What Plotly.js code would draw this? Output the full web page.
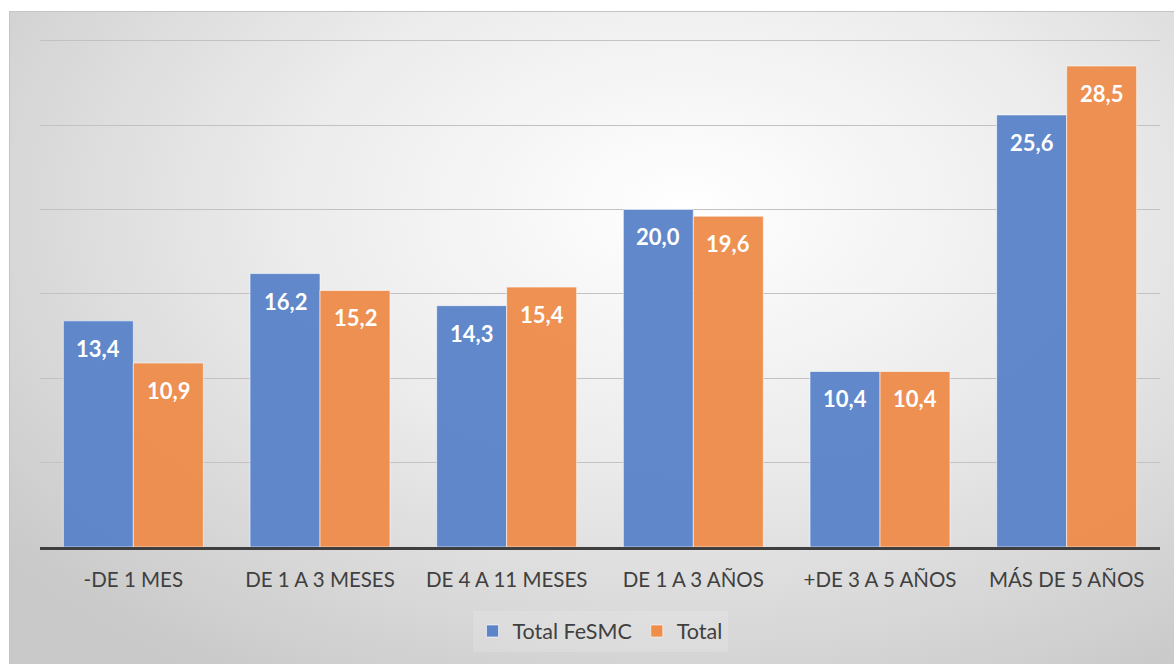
<!DOCTYPE html>
<html>
<head>
<meta charset="utf-8">
<script src="https://cdn.plot.ly/plotly-3.0.1.min.js"></script>
<style>
  html, body { margin: 0; padding: 0; background: #ffffff; }
  #bg {
    position: absolute; left: 9px; top: 11px; width: 1165px; height: 653px;
    background: radial-gradient(ellipse 75% 85% at 58% 30%, #ffffff 0%, #ececec 45%, #c9c9c9 100%);
    border-top: 1px solid #c4c4c4; border-left: 1px solid #c4c4c4;
    box-sizing: border-box;
  }
  #chart { position: absolute; left: 0; top: 0; width: 1174px; height: 664px; }
</style>
</head>
<body>
<div id="bg"></div>
<div id="chart"></div>
<script>
const categories = ["-DE 1 MES", "DE 1 A 3 MESES", "DE 4 A 11 MESES", "DE 1 A 3 AÑOS", "+DE 3 A 5 AÑOS", "MÁS DE 5 AÑOS"];
const seriesNames = ["Total FeSMC", "Total"];
const totalFeSMC = [13.4, 16.2, 14.3, 20.0, 10.4, 25.6];
const total = [10.9, 15.2, 15.4, 19.6, 10.4, 28.5];
const colors = ["#5b84c9", "#ee8d4c"];

function fmt(v) { return v.toFixed(1).replace('.', ','); }

const traces = [totalFeSMC, total].map((vals, i) => ({
  type: 'bar',
  name: seriesNames[i],
  x: categories,
  y: vals,
  marker: { color: colors[i], opacity: 0.96, line: { color: 'rgba(255,255,255,0.6)', width: 1 } },
  hoverinfo: 'none'
}));

const annotations = [];
[totalFeSMC, total].forEach((vals, i) => {
  vals.forEach((v, j) => {
    annotations.push({
      x: categories[j], y: v, xref: 'x', yref: 'y',
      xshift: i === 0 ? -35 : 35, yshift: -12,
      yanchor: 'top', xanchor: 'center', showarrow: false,
      text: '<b>' + fmt(v) + '</b>',
      font: { family: 'Lato, sans-serif', size: 22, color: '#ffffff' }
    });
  });
});

const layout = {
  width: 1174, height: 664,
  margin: { l: 40, r: 14, t: 39, b: 113 },
  paper_bgcolor: 'rgba(0,0,0,0)',
  plot_bgcolor: 'rgba(0,0,0,0)',
  barmode: 'group',
  bargap: 0.25,
  bargroupgap: 0,
  separators: ',.',
  showlegend: true,
  legend: {
    orientation: 'h', x: 0.5, xanchor: 'center', y: -0.125, yanchor: 'top',
    font: { family: 'Lato, sans-serif', size: 21.5, color: '#404040' },
    bgcolor: 'rgba(255,255,255,0.15)',
    itemwidth: 30
  },
  xaxis: {
    type: 'category',
    tickfont: { family: 'Lato, sans-serif', size: 20.5, color: '#404040' },
    showline: true, linecolor: '#3f3f3f', linewidth: 3,
    ticks: '', ticklen: 0, ticklabelstandoff: 12,
    showgrid: false, zeroline: false, fixedrange: true
  },
  yaxis: {
    range: [0, 30.1], dtick: 5, tick0: 0,
    showticklabels: false, ticks: '',
    showgrid: true, gridcolor: '#c2c2c2', gridwidth: 1,
    zeroline: false, showline: false, fixedrange: true
  },
  annotations: annotations
};

Plotly.newPlot('chart', traces, layout, { displayModeBar: false, staticPlot: true });
</script>
</body>
</html>
